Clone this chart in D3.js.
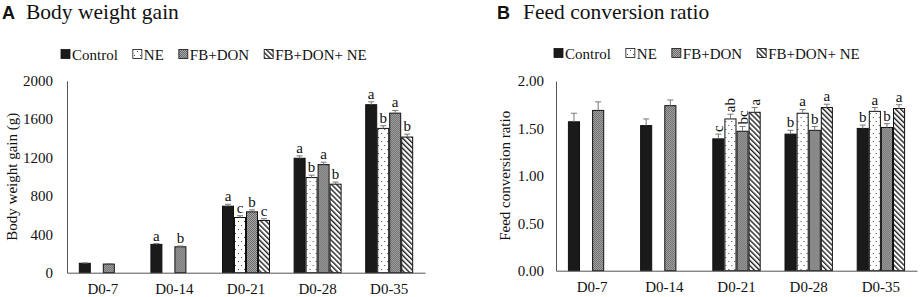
<!DOCTYPE html>
<html><head><meta charset="utf-8">
<script src="https://cdn.jsdelivr.net/npm/d3@7"></script>
<style>
body{margin:0;background:#fff;}
svg{display:block;}
</style></head>
<body><svg id="c" width="920" height="297"></svg>
<script>
const categories = ["D0-7","D0-14","D0-21","D0-28","D0-35"];
const seriesNames = ["Control","NE","FB+DON","FB+DON+ NE"];

// Panel A: body weight gain (g), per series across categories (null = not measured)
const bwgControl = [98, 295, 693, 1192, 1750];
const bwgNE      = [null, null, 575, 991, 1503];
const bwgFBDON   = [90, 270, 634, 1126, 1662];
const bwgFBDONNE = [null, null, 544, 922, 1413];
const bwgErrControl = [4, 8, 20, 25, 30];
const bwgErrNE      = [null, null, 18, 25, 28];
const bwgErrFBDON   = [4, 8, 20, 25, 28];
const bwgErrFBDONNE = [null, null, 18, 22, 30];
const bwgLetControl = ["", "a", "a", "a", "a"];
const bwgLetNE      = ["", "", "c", "b", "b"];
const bwgLetFBDON   = ["", "b", "b", "a", "a"];
const bwgLetFBDONNE = ["", "", "c", "b", "b"];
const bwgTicks = [0, 400, 800, 1200, 1600, 2000];

// Panel B: feed conversion ratio
const fcrControl = [1.57, 1.53, 1.39, 1.44, 1.50];
const fcrNE      = [null, null, 1.60, 1.66, 1.68];
const fcrFBDON   = [1.69, 1.74, 1.47, 1.48, 1.51];
const fcrFBDONNE = [null, null, 1.67, 1.72, 1.71];
const fcrErrControl = [0.09, 0.07, 0.05, 0.04, 0.035];
const fcrErrNE      = [null, null, 0.05, 0.04, 0.04];
const fcrErrFBDON   = [0.09, 0.06, 0.05, 0.04, 0.04];
const fcrErrFBDONNE = [null, null, 0.05, 0.035, 0.04];
const fcrLetControl = ["", "", "c", "b", "b"];
const fcrLetNE      = ["", "", "ab", "a", "a"];
const fcrLetFBDON   = ["", "", "bc", "b", "b"];
const fcrLetFBDONNE = ["", "", "a", "a", "a"];
const fcrRotated    = [false, false, true, false, false];
const fcrTicks = [0, 0.5, 1.0, 1.5, 2.0];

const SERIF = "'Liberation Serif', 'DejaVu Serif', serif";
const SANS = "'Liberation Sans', Arial, sans-serif";

const svg = d3.select("#c");
const defs = svg.append("defs");

const pDots = defs.append("pattern").attr("id","pDots").attr("patternUnits","userSpaceOnUse").attr("width",6).attr("height",8);
pDots.append("rect").attr("width",6).attr("height",8).attr("fill","#fff");
pDots.append("rect").attr("x",1).attr("y",1).attr("width",1).attr("height",1).attr("fill","#444");
pDots.append("rect").attr("x",4).attr("y",5).attr("width",1).attr("height",1).attr("fill","#444");

const pGray = defs.append("pattern").attr("id","pGray").attr("patternUnits","userSpaceOnUse").attr("width",2).attr("height",2);
pGray.append("rect").attr("width",2).attr("height",2).attr("fill","#a8a8a8");
pGray.append("rect").attr("x",0).attr("y",0).attr("width",1).attr("height",1).attr("fill","#6a6a6a");
pGray.append("rect").attr("x",1).attr("y",1).attr("width",1).attr("height",1).attr("fill","#6a6a6a");

const pHatch = defs.append("pattern").attr("id","pHatch").attr("patternUnits","userSpaceOnUse").attr("width",3.6).attr("height",3.6).attr("patternTransform","rotate(-45)");
pHatch.append("rect").attr("width",3.6).attr("height",3.6).attr("fill","#fff");
pHatch.append("rect").attr("x",0).attr("y",0).attr("width",1.4).attr("height",3.6).attr("fill","#222");

const fills = ["#1a1a1a","url(#pDots)","url(#pGray)","url(#pHatch)"];

function serif(sel, size){ return sel.style("font-family", SERIF).style("font-size", size+"px").attr("fill","#111"); }

function panel(cfg){
  const g = svg.append("g");
  const x0 = d3.scaleBand().domain(categories).range([cfg.x0, cfg.x1]).padding(0);
  const gw = x0.bandwidth()*0.67;
  const x1 = d3.scaleBand().domain(d3.range(4)).range([0, gw]).padding(0);
  const y = d3.scaleLinear().domain([0, cfg.max]).range([cfg.y0, cfg.y1]);

  g.append("text").attr("x", cfg.tx).attr("y", 18.5).text(cfg.letter)
    .style("font-family", SANS).style("font-weight","bold").style("font-size","18px").attr("fill","#111");
  serif(g.append("text").attr("x", cfg.tx2).attr("y", 19).text(cfg.title), 21.5);

  const lg = g.append("g").attr("transform",`translate(${cfg.lx},${cfg.ly})`);
  let cx = 0;
  seriesNames.forEach((s,i)=>{
    lg.append("rect").attr("x",cx).attr("y",-4.5).attr("width",9).attr("height",9)
      .attr("fill",fills[i]).attr("stroke","#111").attr("stroke-width",0.8);
    const t = serif(lg.append("text").attr("x",cx+11).attr("y",5.5).text(s), 15);
    cx += 11 + t.node().getComputedTextLength() + 15;
  });

  const ya = d3.axisLeft(y).tickValues(cfg.ticks).tickSize(0).tickPadding(cfg.tp).tickFormat(cfg.fmt);
  const yg = g.append("g").attr("transform",`translate(${cfg.x0},0)`).call(ya);
  yg.attr("font-family", null).attr("font-size", null);
  yg.select(".domain").attr("stroke","#555").attr("stroke-width",1);
  serif(yg.selectAll("text"), 15);

  serif(g.append("text").attr("transform",`translate(${cfg.ylx},${(cfg.y0+cfg.y1)/2}) rotate(-90)`)
    .attr("text-anchor","middle").attr("dominant-baseline","central").text(cfg.ylabel), 15);

  const groups = g.selectAll(".grp").data(categories).enter().append("g")
    .attr("transform", d=>`translate(${x0(d)+(x0.bandwidth()-gw)/2},0)`);
  groups.each(function(cat, ci){
    const gg = d3.select(this);
    cfg.vals.forEach((arr, si)=>{
      const v = arr[ci];
      if(v==null) return;
      const bx = x1(si), bw = x1.bandwidth();
      gg.append("rect").attr("x",bx+0.5).attr("y",y(v)).attr("width",bw-1).attr("height",cfg.y0-y(v))
        .attr("fill",fills[si]).attr("stroke","#111").attr("stroke-width",1);
      const e = cfg.errs[si][ci] || 0;
      const cxm = bx + bw/2;
      if(e>0){
        gg.append("line").attr("x1",cxm).attr("x2",cxm).attr("y1",y(v)).attr("y2",y(v+e)).attr("stroke","#777").attr("stroke-width",1);
        gg.append("line").attr("x1",cxm-3).attr("x2",cxm+3).attr("y1",y(v+e)).attr("y2",y(v+e)).attr("stroke","#777").attr("stroke-width",1);
      }
      const lt = cfg.lets[si][ci];
      if(lt){
        const top = y(v+e);
        if(cfg.rot && cfg.rot[ci]){
          serif(gg.append("text").attr("transform",`translate(${cxm},${top-2}) rotate(-90)`)
            .attr("text-anchor","start").attr("dominant-baseline","central").text(lt), 15);
        } else {
          serif(gg.append("text").attr("x",cxm).attr("y",top-3).attr("text-anchor","middle").text(lt), 15);
        }
      }
    });
  });

  const xa = d3.axisBottom(x0).tickSize(0).tickPadding(11);
  const xg = g.append("g").attr("transform",`translate(0,${cfg.y0})`).call(xa);
  xg.attr("font-family", null).attr("font-size", null);
  xg.select(".domain").attr("stroke","#555").attr("stroke-width",1);
  serif(xg.selectAll("text"), 15);
}

panel({
  letter:"A", title:"Body weight gain", tx:2, tx2:26,
  lx:61, ly:54,
  x0:67, x1:425, y0:272.7, y1:80.7, max:2000, ticks:bwgTicks, tp:14, fmt:d3.format("d"),
  ylabel:"Body weight gain (g)", ylx:12,
  vals:[bwgControl,bwgNE,bwgFBDON,bwgFBDONNE],
  errs:[bwgErrControl,bwgErrNE,bwgErrFBDON,bwgErrFBDONNE],
  lets:[bwgLetControl,bwgLetNE,bwgLetFBDON,bwgLetFBDONNE]
});
panel({
  letter:"B", title:"Feed conversion ratio", tx:497, tx2:523,
  lx:554, ly:53,
  x0:556, x1:917, y0:270.7, y1:81, max:2.0, ticks:fcrTicks, tp:12, fmt:d3.format(".2f"),
  ylabel:"Feed conversion ratio", ylx:505,
  vals:[fcrControl,fcrNE,fcrFBDON,fcrFBDONNE],
  errs:[fcrErrControl,fcrErrNE,fcrErrFBDON,fcrErrFBDONNE],
  lets:[fcrLetControl,fcrLetNE,fcrLetFBDON,fcrLetFBDONNE],
  rot:fcrRotated
});
</script></body></html>
